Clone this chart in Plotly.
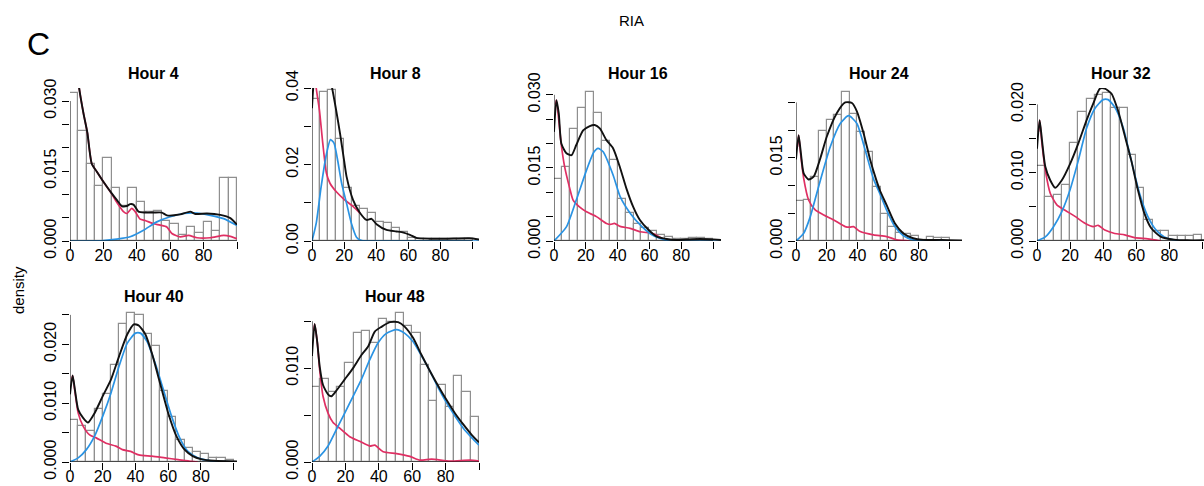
import plotly.graph_objects as go

# ---------------- data ----------------
BIN_CENTERS = [2.5, 7.5, 12.5, 17.5, 22.5, 27.5, 32.5, 37.5, 42.5, 47.5,
               52.5, 57.5, 62.5, 67.5, 72.5, 77.5, 82.5, 87.5, 92.5, 97.5]

TITLES = ["Hour 4", "Hour 8", "Hour 16", "Hour 24", "Hour 32", "Hour 40", "Hour 48"]

H4_HIST = [0.0317, 0.0235, 0.0166, 0.0118, 0.0177, 0.0114, 0.0076, 0.0113, 0.0083, 0.0063,
           0.0065, 0.0043, 0.0036, 0.0012, 0.0031, 0.0018, 0.0040, 0.0021, 0.0134, 0.0134]
H8_HIST = [0.0371, 0.0389, 0.0395, 0.0266, 0.0138, 0.0092, 0.0083, 0.0072, 0.0049, 0.0046,
           0.0033, 0.0024, 0.0008, 0.0006, 0.0005, 0.0004, 0.0004, 0.0005, 0.0004, 0.0004]
H16_HIST = [0.0128, 0.0151, 0.0229, 0.0273, 0.0305, 0.0262, 0.0206, 0.0167, 0.0087, 0.0058,
            0.0034, 0.0027, 0.0021, 0.0012, 0.0009, 0.0005, 0.0004, 0.0007, 0.0007, 0.0005]
H24_HIST = [0.0072, 0.0074, 0.0115, 0.0199, 0.0219, 0.0228, 0.0268, 0.0229, 0.0197, 0.0160,
            0.0097, 0.0049, 0.0026, 0.0014, 0.0013, 0.0009, 0.0002, 0.0008, 0.0006, 0.0006]
H32_HIST = [0.0110, 0.0064, 0.0068, 0.0082, 0.0143, 0.0189, 0.0208, 0.0214, 0.0217, 0.0194,
            0.0194, 0.0126, 0.0077, 0.0031, 0.0015, 0.0015, 0.0008, 0.0008, 0.0007, 0.0009]
H40_HIST = [0.0072, 0.0062, 0.0052, 0.0090, 0.0116, 0.0164, 0.0235, 0.0253, 0.0249, 0.0217,
            0.0197, 0.0120, 0.0077, 0.0038, 0.0023, 0.0017, 0.0014, 0.0007, 0.0007, 0.0004]
H48_HIST = [0.0080, 0.0088, 0.0075, 0.0080, 0.0105, 0.0137, 0.0140, 0.0127, 0.0152, 0.0149,
            0.0159, 0.0145, 0.0137, 0.0103, 0.0065, 0.0082, 0.0059, 0.0092, 0.0075, 0.0048]

# total density (black)
H4_BLACK_X = [3, 5.4, 8, 10.4, 13, 16, 20, 25, 28, 31, 34, 36, 38, 41, 45, 50, 55, 58, 66, 72, 75, 82, 90, 96, 100]
H4_BLACK_Y = [0.042, 0.033, 0.0275, 0.0232, 0.0166, 0.0149, 0.0127, 0.0102, 0.0088, 0.0075, 0.0075, 0.0079, 0.0078,
              0.0063, 0.0061, 0.0061, 0.0061, 0.0055, 0.0057, 0.0063, 0.0058, 0.0059, 0.0056, 0.0049, 0.0035]
H8_BLACK_X = [0, 1, 3, 6, 9, 12, 15, 17.5, 20, 21.5, 25.6, 29.8, 34, 37.1, 40.2, 46.4, 52.6, 57, 61, 65, 73, 84, 98, 104]
H8_BLACK_Y = [0.0347, 0.041, 0.045, 0.047, 0.045, 0.041, 0.0343, 0.028, 0.021, 0.0169, 0.0107, 0.0074, 0.0055, 0.0058,
              0.0044, 0.0029, 0.0025, 0.0022, 0.0016, 0.0008, 0.0006, 0.0006, 0.0007, 0.0004]
H16_BLACK_X = [0, 1.5, 3, 4.6, 7.8, 11, 14, 18.3, 22.5, 25.6, 28.8, 33, 37.2, 41.4, 45.6, 49.8, 54, 59.4, 64.6, 70.9,
               77, 83, 92, 105]
H16_BLACK_Y = [0.0224, 0.0289, 0.0262, 0.020, 0.018, 0.0176, 0.0197, 0.0227, 0.0236, 0.0238, 0.0231, 0.0207, 0.019,
               0.0152, 0.0107, 0.007, 0.0043, 0.0023, 0.0009, 0.0004, 0.0002, 0.0003, 0.0004, 0.0002]
H24_BLACK_X = [0, 1.7, 3.2, 5, 8.2, 11.5, 15.8, 20, 26.6, 32, 36.4, 39.6, 44, 48.3, 52, 54.5, 58.9, 64.3, 69.7, 76.2,
               82.7, 95, 108]
H24_BLACK_Y = [0.0147, 0.0191, 0.0158, 0.0122, 0.0111, 0.0116, 0.0149, 0.0188, 0.0231, 0.025, 0.0249, 0.0234, 0.0194,
               0.0146, 0.0112, 0.0092, 0.0065, 0.0032, 0.0014, 0.0005, 0.0002, 0.0002, 0.0001]
H32_BLACK_X = [0, 1.6, 3, 5, 8, 11, 15, 20, 25, 30, 34, 38, 41, 45, 49, 53, 57, 61, 65, 69, 75, 83, 91, 101]
H32_BLACK_Y = [0.0135, 0.0177, 0.0148, 0.0109, 0.0089, 0.0078, 0.0089, 0.0113, 0.0143, 0.0177, 0.0201, 0.0223, 0.0223,
               0.0216, 0.0191, 0.0155, 0.0118, 0.0075, 0.004, 0.0019, 0.0006, 0.0002, 0.0001, 0.0001]
H40_BLACK_X = [0, 1.6, 3, 5, 8, 11, 15, 20, 25, 30, 35, 39, 42, 46, 50, 55, 60, 65, 70, 75, 80, 88, 102]
H40_BLACK_Y = [0.0115, 0.0147, 0.0123, 0.0089, 0.0075, 0.0067, 0.0083, 0.0112, 0.014, 0.018, 0.0217, 0.0234, 0.0232,
               0.0217, 0.0185, 0.0134, 0.0083, 0.0044, 0.0021, 0.001, 0.0005, 0.0002, 0.0001]
H48_BLACK_X = [0, 1.6, 3, 4.6, 6.6, 9.6, 11.6, 15, 19.6, 24.6, 29.6, 33.6, 37.6, 41.6, 46.6, 51.6, 55.6, 60.6, 65.6,
               70.6, 75.6, 80.6, 85.6, 90.6, 95.6, 100]
H48_BLACK_Y = [0.0113, 0.0147, 0.013, 0.0102, 0.0082, 0.0072, 0.007, 0.0077, 0.0088, 0.010, 0.0114, 0.0123, 0.0139,
               0.0144, 0.0149, 0.0149, 0.0144, 0.0132, 0.0114, 0.0097, 0.0081, 0.0066, 0.0052, 0.004, 0.0029, 0.0021]

# first component (red)
H4_RED_X = [3, 5.4, 8, 10.4, 13, 16, 20, 25, 28, 32, 34, 37, 39, 42, 45, 50, 54, 58, 61, 66, 71, 76, 84, 92, 96, 100]
H4_RED_Y = [0.042, 0.033, 0.0275, 0.0232, 0.0166, 0.0149, 0.0127, 0.0101, 0.0083, 0.0063, 0.0059, 0.007, 0.0063,
            0.0047, 0.0044, 0.0037, 0.0034, 0.003, 0.0016, 0.0009, 0.0012, 0.0007, 0.0007, 0.0012, 0.001, 0.0005]
H8_RED_X = [1, 2.6, 4.6, 6.7, 9, 11.2, 15.3, 20.5, 25.7, 30]
H8_RED_Y = [0.047, 0.040, 0.0343, 0.0256, 0.0177, 0.0151, 0.0128, 0.0107, 0.009, 0.0072]
H16_RED_X = [1, 1.5, 3, 4.6, 6.7, 9.9, 12, 16, 20.4, 26.7, 33, 35.5, 38, 41.6, 47.9, 54.2, 62.6, 68.9, 73]
H16_RED_Y = [0.028, 0.0289, 0.0248, 0.0197, 0.0152, 0.0108, 0.0084, 0.007, 0.006, 0.005, 0.0036, 0.0034, 0.0036,
             0.003, 0.0026, 0.0019, 0.0015, 0.0004, 0.0]
H24_RED_X = [1, 1.7, 3.2, 5, 8.2, 12.5, 18, 24.5, 32, 35, 37.4, 41.8, 50.4, 59, 65.6, 74]
H24_RED_Y = [0.017, 0.0191, 0.0152, 0.0113, 0.0074, 0.0056, 0.0047, 0.0038, 0.0026, 0.0025, 0.0026, 0.0017, 0.0011,
             0.0008, 0.0002, 0.0]
H32_RED_X = [1, 1.6, 3, 5, 8, 12, 17, 23, 29, 34, 37, 41, 47, 53, 59, 67, 75]
H32_RED_Y = [0.016, 0.0177, 0.0143, 0.0104, 0.007, 0.0053, 0.0045, 0.0036, 0.0026, 0.0021, 0.0023, 0.0016, 0.0011,
             0.0009, 0.0005, 0.0003, 0.0]
H40_RED_X = [1, 1.6, 3, 5, 8, 12, 16, 22, 28, 32, 37, 42, 50, 58, 66, 74, 78]
H40_RED_Y = [0.014, 0.0147, 0.012, 0.0083, 0.0061, 0.0046, 0.0041, 0.0032, 0.0027, 0.0021, 0.0018, 0.0012, 0.001,
             0.0007, 0.0004, 0.0001, 0.0]
H48_RED_X = [1, 1.6, 3.2, 4.6, 6.6, 9.6, 12.6, 16.6, 22.6, 28.6, 34.6, 37.6, 42.6, 50.6, 58.6, 64.6, 71.6, 82.6, 94.6, 100]
H48_RED_Y = [0.014, 0.0147, 0.0127, 0.0098, 0.007, 0.0052, 0.0042, 0.0036, 0.0027, 0.0022, 0.0017, 0.0018, 0.0011,
             0.0009, 0.0006, 0.0002, 0.0003, 0.0001, 0.0002, 0.0001]

# second component (blue)
H4_BLUE_X = [0, 10, 20, 28, 36, 44, 52, 60, 68, 76, 84, 92, 100]
H4_BLUE_Y = [0, 0, 0.0001, 0.0004, 0.0009, 0.0023, 0.0041, 0.0052, 0.0059, 0.006, 0.0055, 0.0048, 0.0033]
H8_BLUE_X = [0, 2.6, 5.7, 8.7, 11.5, 13.7, 15.8, 18.5, 21.5, 24.6, 27.7, 31, 40, 60, 80, 104]
H8_BLUE_Y = [0, 0.0046, 0.0142, 0.0221, 0.0265, 0.0256, 0.0215, 0.015, 0.0099, 0.0045, 0.001, 0.0001, 0, 0, 0, 0]
H16_BLUE_X = [0, 7.8, 14, 20.4, 25, 27.7, 30.9, 37.2, 41.6, 47.9, 54.2, 60.5, 66.8, 73, 90, 105]
H16_BLUE_Y = [0, 0.0029, 0.0084, 0.0145, 0.0182, 0.019, 0.0183, 0.0135, 0.0091, 0.0057, 0.0033, 0.0015, 0.0005, 0,
              0, 0]
H24_BLUE_X = [0, 5, 9.3, 14.7, 22.3, 28.8, 34.2, 39.6, 45, 50.4, 54.5, 58.9, 64.3, 69.7, 76.2, 85, 108]
H24_BLUE_Y = [0, 0.0014, 0.0044, 0.0098, 0.017, 0.0212, 0.0226, 0.0212, 0.0164, 0.0112, 0.0086, 0.0056, 0.0026,
              0.001, 0.0002, 0, 0]
H32_BLUE_X = [0, 5, 10, 15, 20, 25, 30, 35, 40, 43, 47, 52, 57, 62, 67, 72, 77, 85, 101]
H32_BLUE_Y = [0, 0.0006, 0.0021, 0.0043, 0.0075, 0.0118, 0.0165, 0.0194, 0.0207, 0.0207, 0.0196, 0.0167, 0.0118,
              0.007, 0.0036, 0.0016, 0.0006, 0.0001, 0]
H40_BLUE_X = [0, 5, 10, 15, 20, 25, 30, 35, 40, 43, 47, 52, 57, 62, 67, 72, 78, 86, 102]
H40_BLUE_Y = [0, 0.0007, 0.0021, 0.0044, 0.0078, 0.0117, 0.0163, 0.0202, 0.0219, 0.0219, 0.0205, 0.0168, 0.0123,
              0.0078, 0.0041, 0.0018, 0.0007, 0.0002, 0]
H48_BLUE_X = [0, 4.6, 9.6, 15, 19.6, 24.6, 29.6, 34.6, 39.6, 44.6, 50.6, 55.6, 60.6, 65.6, 70.6, 75.6, 80.6, 85.6,
              90.6, 95.6, 100]
H48_BLUE_Y = [0, 0.0006, 0.0017, 0.0036, 0.0052, 0.007, 0.0088, 0.0109, 0.0127, 0.0137, 0.0141, 0.0137, 0.0128,
              0.0113, 0.0097, 0.0079, 0.0063, 0.0049, 0.0036, 0.0026, 0.0018]

# axis ticks
X_TICKS = [0, 20, 40, 60, 80, 100]
X_TICK_TEXT = ["0", "20", "40", "60", "80", ""]
Y_TICKS = [
    ([0, 0.005, 0.010, 0.015, 0.020, 0.025, 0.030], ["0.000", "", "", "0.015", "", "", "0.030"]),
    ([0, 0.01, 0.02, 0.03, 0.04], ["0.00", "", "0.02", "", "0.04"]),
    ([0, 0.005, 0.010, 0.015, 0.020, 0.025, 0.030], ["0.000", "", "", "0.015", "", "", "0.030"]),
    ([0, 0.005, 0.010, 0.015, 0.020, 0.025], ["0.000", "", "", "0.015", "", ""]),
    ([0, 0.005, 0.010, 0.015, 0.020], ["0.000", "", "0.010", "", "0.020"]),
    ([0, 0.005, 0.010, 0.015, 0.020, 0.025], ["0.000", "", "0.010", "", "0.020", ""]),
    ([0, 0.005, 0.010, 0.015], ["0.000", "", "0.010", ""]),
]

HISTS = [H4_HIST, H8_HIST, H16_HIST, H24_HIST, H32_HIST, H40_HIST, H48_HIST]
BLACKS = [(H4_BLACK_X, H4_BLACK_Y), (H8_BLACK_X, H8_BLACK_Y), (H16_BLACK_X, H16_BLACK_Y), (H24_BLACK_X, H24_BLACK_Y),
          (H32_BLACK_X, H32_BLACK_Y), (H40_BLACK_X, H40_BLACK_Y), (H48_BLACK_X, H48_BLACK_Y)]
REDS = [(H4_RED_X, H4_RED_Y), (H8_RED_X, H8_RED_Y), (H16_RED_X, H16_RED_Y), (H24_RED_X, H24_RED_Y),
        (H32_RED_X, H32_RED_Y), (H40_RED_X, H40_RED_Y), (H48_RED_X, H48_RED_Y)]
BLUES = [(H4_BLUE_X, H4_BLUE_Y), (H8_BLUE_X, H8_BLUE_Y), (H16_BLUE_X, H16_BLUE_Y), (H24_BLUE_X, H24_BLUE_Y),
         (H32_BLUE_X, H32_BLUE_Y), (H40_BLUE_X, H40_BLUE_Y), (H48_BLUE_X, H48_BLUE_Y)]

# ---------------- layout (pixels) ----------------
W, H = 1204, 486
# (left px, right px, x max, row)
PANEL_X = [(70, 237, 100, 0), (312, 479, 104, 0), (554, 721, 105, 0), (796, 962, 108, 0),
           (1037, 1204, 101, 0), (70, 237, 102, 1), (312, 479, 100, 1)]
Y_MAX = [0.0328, 0.0400, 0.0314, 0.0276, 0.0224, 0.0260, 0.0163]
ROW_PX = [(88, 241), (309, 462)]
TITLE_Y_PX = [73, 296]

FONT = "Liberation Sans, Arial, Helvetica, sans-serif"
RED = "#DF2F63"
BLUE = "#2A93E3"

fig = go.Figure()
shapes = []
annotations = []

for i in range(7):
    n = i + 1
    xa = "x" if n == 1 else f"x{n}"
    ya = "y" if n == 1 else f"y{n}"
    left, right, xmax, row = PANEL_X[i]
    top, bottom = ROW_PX[row]

    fig.add_trace(go.Bar(
        x=BIN_CENTERS, y=HISTS[i], width=5,
        marker=dict(color="rgba(0,0,0,0)", line=dict(color="#8f8f8f", width=1.2)),
        xaxis=xa, yaxis=ya, showlegend=False, hoverinfo="skip"))
    for (cx, cy), col, w in [(REDS[i], RED, 1.7), (BLUES[i], BLUE, 1.7), (BLACKS[i], "#111111", 1.9)]:
        fig.add_trace(go.Scatter(
            x=cx, y=cy, mode="lines",
            line=dict(color=col, width=w, shape="spline", smoothing=0.6),
            xaxis=xa, yaxis=ya, showlegend=False, hoverinfo="skip"))

    yt, ytt = Y_TICKS[i]
    fig.layout["xaxis" + ("" if n == 1 else str(n))] = dict(
        domain=[left / W, right / W], range=[0, xmax], anchor=ya, automargin=False,
        tickmode="array", tickvals=X_TICKS, ticktext=X_TICK_TEXT,
        ticks="outside", ticklen=7, tickwidth=1, tickcolor="black", ticklabelstandoff=-7,
        showgrid=False, zeroline=False, showline=False,
        tickfont=dict(family=FONT, size=16, color="black"), fixedrange=True)
    fig.layout["yaxis" + ("" if n == 1 else str(n))] = dict(
        domain=[1 - bottom / H, 1 - top / H], range=[0, Y_MAX[i]], anchor=xa, automargin=False,
        tickmode="array", tickvals=yt, ticktext=ytt, tickangle=-90,
        ticks="outside", ticklen=7, tickwidth=1, tickcolor="black",
        showgrid=False, zeroline=False, showline=False,
        tickfont=dict(family=FONT, size=16, color="black"), fixedrange=True)

    # axis lines from first to last tick (R style)
    shapes.append(dict(type="line", xref=xa, yref=ya, x0=X_TICKS[0], x1=X_TICKS[-1], y0=0, y1=0,
                       line=dict(color="black", width=1)))
    shapes.append(dict(type="line", xref=xa, yref=ya, x0=0, x1=0, y0=yt[0], y1=yt[-1],
                       line=dict(color="black", width=1)))

    annotations.append(dict(text="<b>" + TITLES[i] + "</b>", x=(left + right) / 2 / W,
                            y=1 - TITLE_Y_PX[row] / H, xref="paper", yref="paper",
                            showarrow=False, xanchor="center", yanchor="middle",
                            font=dict(family=FONT, size=16, color="black")))

annotations.append(dict(text="C", x=38 / W, y=1 - 44 / H, xref="paper", yref="paper", showarrow=False,
                        xanchor="center", yanchor="middle", font=dict(family=FONT, size=32, color="black")))
annotations.append(dict(text="RIA", x=631 / W, y=1 - 20 / H, xref="paper", yref="paper", showarrow=False,
                        xanchor="center", yanchor="middle", font=dict(family=FONT, size=15, color="black")))
annotations.append(dict(text="density", x=18 / W, y=1 - 290 / H, xref="paper", yref="paper", showarrow=False,
                        textangle=-90, xanchor="center", yanchor="middle",
                        font=dict(family=FONT, size=15, color="black")))

fig.update_layout(
    width=W, height=H, margin=dict(l=0, r=0, t=0, b=0, pad=0, autoexpand=False),
    paper_bgcolor="white", plot_bgcolor="white",
    shapes=shapes, annotations=annotations, bargap=0, showlegend=False)

fig.write_html("out.html", config={"displayModeBar": False},
               post_script="document.body.style.margin='0';document.body.style.overflow='hidden';")
